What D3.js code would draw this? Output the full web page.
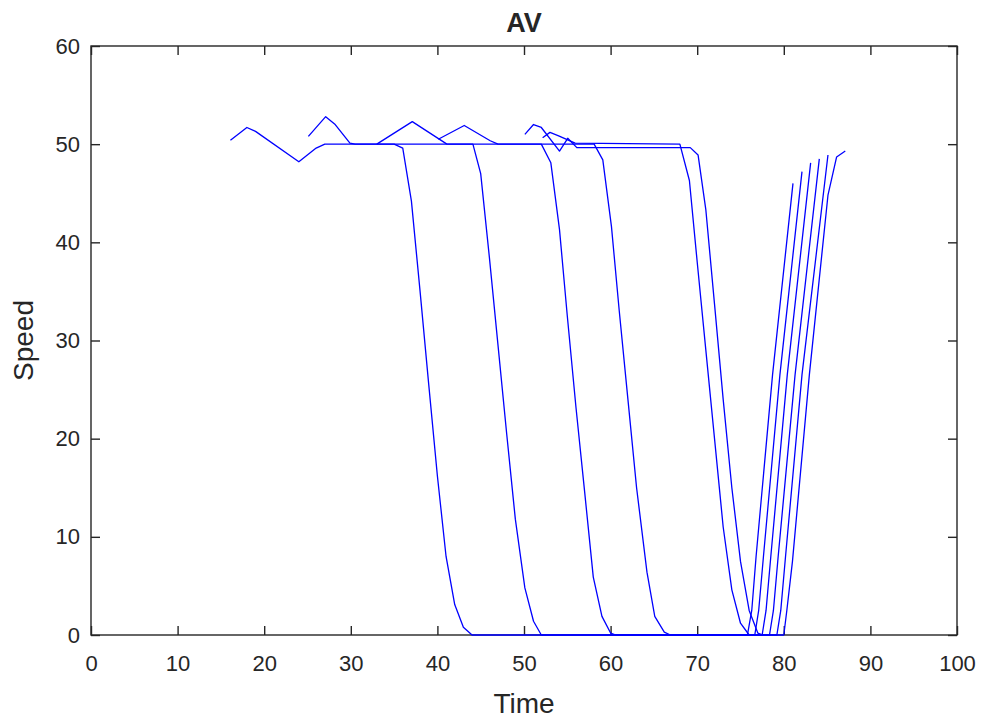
<!DOCTYPE html>
<html>
<head>
<meta charset="utf-8">
<script src="https://cdn.jsdelivr.net/npm/d3@7/dist/d3.min.js"></script>
<style>
  html, body { margin: 0; padding: 0; background: #ffffff; }
  svg { display: block; }
  text { font-family: "Liberation Sans", Arial, Helvetica, sans-serif; fill: #262626; }
</style>
</head>
<body>
<svg id="chart" width="984" height="722"></svg>
<script>
// Speed traces of six vehicles: [time, speed]
const vehicle1 = [[16.1,50.4],[18.0,51.7],[19.0,51.3],[24.0,48.2],[26.0,49.6],[27.0,50.0],[35.0,50.0],[36.0,49.6],[37.0,44.2],[38.0,35.0],[39.0,25.5],[40.0,16.2],[41.0,8.0],[42.0,3.1],[43.0,0.8],[44.0,0],[75.8,0],[76.3,2.5],[76.8,8.0],[78.7,26.5],[81.06,46.0]];
const vehicle2 = [[25.1,50.8],[27.1,52.8],[28.2,52.0],[29.9,50.1],[30.5,50.0],[44.1,50.0],[45.0,47.0],[46.0,38.5],[47.0,29.5],[48.0,20.5],[49.0,11.8],[50.1,4.8],[51.1,1.4],[52.0,0],[76.65,0],[77.1,2.5],[77.65,8.0],[79.55,26.5],[82.1,47.2]];
const vehicle3 = [[33.0,50.0],[37.1,52.3],[41.1,50.0],[52.0,50.0],[53.1,48.1],[54.1,41.3],[55.0,32.5],[56.0,23.2],[57.0,14.6],[58.0,5.9],[59.0,1.9],[60.0,0.2],[60.6,0],[77.5,0],[77.95,2.5],[78.5,8.0],[80.4,26.5],[83.1,48.1]];
const vehicle4 = [[40.1,50.5],[43.1,51.9],[46.1,50.35],[47.0,50.0],[58.1,50.0],[59.1,48.4],[60.1,41.6],[61.0,33.0],[62.0,24.0],[63.0,15.0],[64.2,6.4],[65.1,1.9],[66.2,0.3],[66.9,0],[78.35,0],[78.8,2.5],[79.35,8.0],[81.3,26.5],[84.1,48.5]];
const vehicle5 = [[52.15,50.65],[53.0,51.2],[54.0,50.85],[55.9,50.1],[68.0,50.0],[69.1,46.3],[70.0,38.0],[71.0,29.0],[72.0,20.0],[73.0,11.0],[74.0,4.6],[75.0,1.2],[76.0,0],[79.2,0],[79.65,2.5],[80.2,8.0],[82.1,26.5],[85.1,48.9]];
const vehicle6 = [[50.1,51.0],[51.1,52.0],[52.0,51.7],[54.1,49.3],[55.05,50.6],[56.1,49.65],[69.2,49.65],[70.1,48.9],[71.0,43.3],[72.0,33.7],[73.0,24.0],[74.0,15.0],[75.0,7.5],[76.0,2.5],[77.0,0.2],[77.6,0],[80.0,0],[80.35,2.5],[81.0,7.5],[82.95,26.5],[85.1,44.8],[86.1,48.7],[87.1,49.3]];

const vehicles = [vehicle1, vehicle2, vehicle3, vehicle4, vehicle5, vehicle6];

const xTicks = [0, 10, 20, 30, 40, 50, 60, 70, 80, 90, 100];
const yTicks = [0, 10, 20, 30, 40, 50, 60];

const titleText = "AV";
const xLabel = "Time";
const yLabel = "Speed";

const svg = d3.select("#chart");
const plot = { left: 91, right: 957, top: 46, bottom: 635 };

const x = d3.scaleLinear().domain([0, 100]).range([plot.left, plot.right]);
const y = d3.scaleLinear().domain([0, 60]).range([plot.bottom, plot.top]);

const axisColor = "#262626";
const tickLen = 9;

// Box around the axes
svg.append("rect")
  .attr("x", plot.left).attr("y", plot.top)
  .attr("width", plot.right - plot.left).attr("height", plot.bottom - plot.top)
  .attr("fill", "none").attr("stroke", axisColor).attr("stroke-width", 1.4);

function styleAxis(g) {
  g.select(".domain").remove();
  g.selectAll(".tick line").attr("stroke", axisColor).attr("stroke-width", 1.4);
  g.selectAll(".tick text").attr("fill", axisColor).style("font-size", "22px")
    .style("font-family", "'Liberation Sans', Arial, sans-serif");
}

// Bottom and left axes with labels; ticks point inward
svg.append("g").attr("transform", `translate(0,${plot.bottom})`)
  .call(d3.axisBottom(x).tickValues(xTicks).tickSize(-tickLen).tickPadding(20).tickFormat(d3.format("d")))
  .call(styleAxis);
svg.append("g").attr("transform", `translate(${plot.left},0)`)
  .call(d3.axisLeft(y).tickValues(yTicks).tickSize(-tickLen).tickPadding(11).tickFormat(d3.format("d")))
  .call(styleAxis);
// Mirrored ticks on top and right
svg.append("g").attr("transform", `translate(0,${plot.top})`)
  .call(d3.axisTop(x).tickValues(xTicks).tickSize(-tickLen).tickFormat(""))
  .call(styleAxis);
svg.append("g").attr("transform", `translate(${plot.right},0)`)
  .call(d3.axisRight(y).tickValues(yTicks).tickSize(-tickLen).tickFormat(""))
  .call(styleAxis);

// Speed traces
const line = d3.line().x(d => x(d[0])).y(d => y(d[1]));
svg.append("g").selectAll("path")
  .data(vehicles)
  .join("path")
  .attr("d", line)
  .attr("fill", "none")
  .attr("stroke", "#0000ff")
  .attr("stroke-width", 1.3)
  .attr("stroke-linejoin", "round");

// Title and axis labels
svg.append("text")
  .attr("x", (plot.left + plot.right) / 2).attr("y", 32)
  .attr("text-anchor", "middle")
  .style("font-size", "27px").style("font-weight", "bold")
  .text(titleText);

svg.append("text")
  .attr("x", (plot.left + plot.right) / 2).attr("y", 713)
  .attr("text-anchor", "middle")
  .style("font-size", "28px")
  .text(xLabel);

svg.append("text")
  .attr("transform", `translate(33,${(plot.top + plot.bottom) / 2}) rotate(-90)`)
  .attr("text-anchor", "middle")
  .style("font-size", "28px")
  .text(yLabel);
</script>
</body>
</html>
